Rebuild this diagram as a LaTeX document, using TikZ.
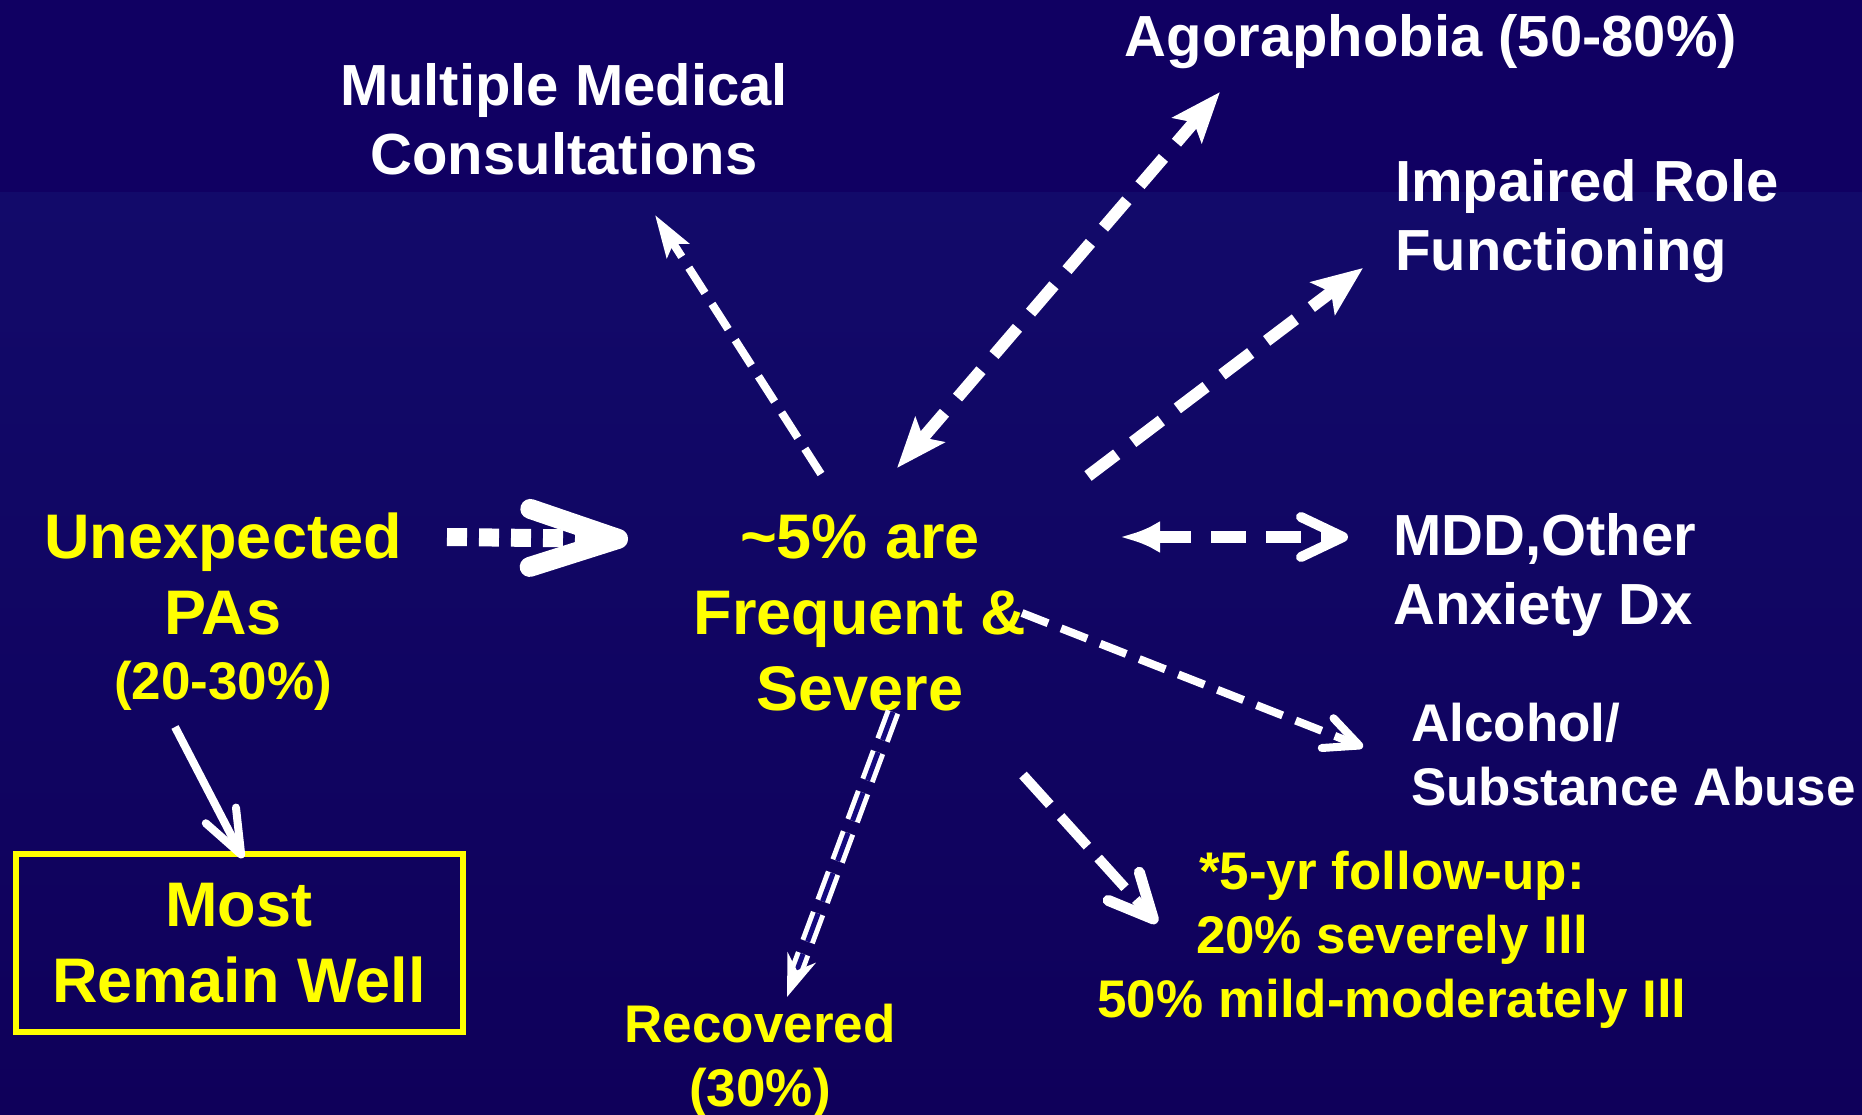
\documentclass[tikz,border=0pt]{standalone}
\usepackage{fontspec}
\setmainfont{Liberation Sans}
\usetikzlibrary{arrows.meta}

\definecolor{bandtop}{RGB}{16,0,98}
\definecolor{bandhigh}{RGB}{18,10,106}
\definecolor{bandmid}{RGB}{21,10,126}
\definecolor{bandlow}{RGB}{15,0,90}
\definecolor{slideyellow}{RGB}{255,255,0}

\begin{document}
\begin{tikzpicture}[x=1pt,y=-1pt,
  wtxt/.style={text=white,inner sep=0pt,font=\bfseries\fontsize{58}{69}\selectfont},
  wsmall/.style={text=white,inner sep=0pt,font=\bfseries\fontsize{53}{64}\selectfont},
  ytxt/.style={text=slideyellow,inner sep=0pt,font=\bfseries\fontsize{63}{76}\selectfont},
  ysmall/.style={text=slideyellow,inner sep=0pt,font=\bfseries\fontsize{53}{64}\selectfont},
  bigdash/.style={white,line width=12pt,dash pattern=on 36pt off 20pt},
  thindash/.style={white,line width=8pt,dash pattern=on 30pt off 13pt}]

\useasboundingbox (0,0) rectangle (1862,1115);

% background
\fill[bandtop] (0,0) rectangle (1862,193);
\shade[top color=bandhigh,middle color=bandmid,bottom color=bandlow] (0,193) rectangle (1862,1115);

% texts
\node[ytxt,align=center] (pas) at (223,574) {Unexpected\\PAs};
\node[ysmall] (pct) at (223,686) {(20-30\%)};
\node[ytxt,align=center] (sev) at (860,613) {\textasciitilde5\% are\\Frequent \&\\Severe};
\node[ytxt,align=center,draw=slideyellow,line width=6pt,minimum width=447pt,minimum height=178pt] (well) at (239,943) {Most\\Remain Well};

\node[wtxt,align=center] (med) at (564,119) {Multiple Medical\\Consultations};
\node[wtxt] (ago) at (1431,42) {Agoraphobia (50-80\%)};
\node[wtxt,align=left,anchor=west] (role) at (1395,221) {Impaired Role\\Functioning};
\node[wtxt,align=left,anchor=west] (mdd) at (1393,575) {MDD,Other\\Anxiety Dx};
\node[wsmall,align=left,anchor=west] (alc) at (1411,755) {Alcohol/\\Substance Abuse};

\node[ysmall,align=center] (rec) at (760,1061) {Recovered\\(30\%)};
\node[ysmall,align=center] (fu) at (1392,940) {*5-yr follow-up:\\20\% severely Ill\\50\% mild-moderately Ill};

% arrow ends
\coordinate (dotS) at (447,537);
\coordinate (dotE) at (628,539);
\coordinate (medS) at (821,474);
\coordinate (medE) at (655,215);
\coordinate (agoS) at (897,468);
\coordinate (agoE) at (1220,92);
\coordinate (roleS) at (1088,476);
\coordinate (roleE) at (1363,268);
\coordinate (mddS) at (1120,537);
\coordinate (mddE) at (1348,537);
\coordinate (alcS) at (1022,613);
\coordinate (alcE) at (1363,747);
\coordinate (recS) at (893,712);
\coordinate (recE) at (787,997);
\coordinate (fuS) at (1023,775);
\coordinate (fuE) at (1157,923);
\coordinate (wellS) at (175,727);
\coordinate (wellE) at (243,858);

% arrows
\draw[white,line width=18pt,dash pattern=on 20pt off 12pt,-{Straight Barb[length=88pt,width=58pt,line width=20pt,round]}] (dotS) -- (dotE);
\draw[thindash,-{Stealth[length=42pt,width=26pt,inset=8pt]}] (medS) -- (medE);
\draw[bigdash,{Stealth[length=50pt,width=38pt,inset=10pt]}-{Stealth[length=50pt,width=38pt,inset=10pt]}] (agoS) -- (agoE);
\draw[bigdash,-{Stealth[length=50pt,width=40pt,inset=10pt]}] (roleS) -- (roleE);
\draw[white,line width=12pt,dash pattern=on 35pt off 20pt,{Latex[length=40pt,width=32pt]}-{Straight Barb[length=42pt,width=40pt,line width=10pt,round]}] (mddS) -- (mddE);
\draw[thindash,dash pattern=on 28pt off 14pt,-{Straight Barb[length=34pt,width=32pt,line width=8pt,round]}] (alcS) -- (alcE);
\draw[white,line width=5pt,double=bandmid,double distance=5pt,dash pattern=on 30pt off 13pt,-{Stealth[length=42pt,width=30pt]}] (recS) -- (recE);
\draw[white,line width=10pt,dash pattern=on 40pt off 16pt,-{Straight Barb[length=44pt,width=42pt,line width=11pt,round]}] (fuS) -- (fuE);
\draw[white,line width=8pt,-{Straight Barb[length=44pt,width=34pt,line width=8pt,round]}] (wellS) -- (wellE);

\end{tikzpicture}
\end{document}
